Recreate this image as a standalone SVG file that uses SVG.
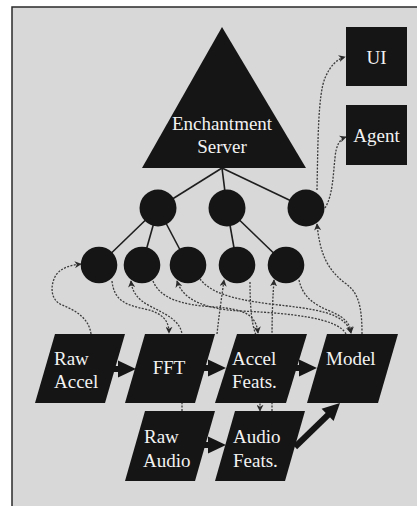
<svg xmlns="http://www.w3.org/2000/svg" width="417" height="506" viewBox="0 0 417 506">
<style>
.shape{fill:#151515}
.lbl{fill:#f2f2f2;font-family:"Liberation Serif","Times New Roman",serif;font-size:19px}
.mid{text-anchor:middle}
.tree{stroke:#1e1e1e;stroke-width:1.6;fill:none}
.dot{stroke:#3c3c3c;stroke-width:1.3;stroke-dasharray:2 1.4;fill:none;marker-end:url(#sm)}
.thick{stroke:#151515;stroke-width:6;fill:none}
.head{fill:#151515}
</style>
<defs>
<marker id="sm" viewBox="0 0 10 10" refX="9" refY="5" markerWidth="7" markerHeight="7" markerUnits="userSpaceOnUse" orient="auto">
<path d="M0,0 L10,5 L0,10 L3,5 z" fill="#2a2a2a"/>
</marker>
</defs>
<rect x="0" y="0" width="417" height="506" fill="#ffffff"/>
<rect x="12" y="7" width="410" height="505" fill="#d8d8d8" stroke="#2a2a2a" stroke-width="1.5"/>

<g id="connectors">
<line class="tree" x1="222" y1="168" x2="158" y2="208"/>
<line class="tree" x1="222" y1="168" x2="227" y2="208"/>
<line class="tree" x1="222" y1="168" x2="306" y2="208"/>
<line class="tree" x1="158" y1="208" x2="99" y2="265"/>
<line class="tree" x1="158" y1="208" x2="142" y2="265"/>
<line class="tree" x1="158" y1="208" x2="188" y2="265"/>
<line class="tree" x1="227" y1="208" x2="237" y2="265"/>
<line class="tree" x1="227" y1="208" x2="286" y2="265"/>

<path class="dot" d="M91,334 C89,318 75,310 62,305 C50,300 50,285 56,275 C62,267 72,265 81,264"/>
<path class="dot" d="M112,281 C114,300 125,305 145,309 C162,313 169,320 169,333"/>
<path class="dot" d="M182,411 L182,334 C180,320 165,314 150,306 C138,300 132,292 131,281"/>
<path class="dot" d="M153,281 C160,298 180,305 215,307 C245,309 256,315 258,333"/>
<path class="dot" d="M217,334 C219,315 222,295 224,280"/>
<path class="dot" d="M250,282 C250,310 252,325 256,335 C259,345 260,380 260,411"/>
<path class="dot" d="M272,411 L272,340 C272,310 273,295 274,280"/>
<path class="dot" d="M299,280 C303,298 315,305 332,312 C345,318 350,323 351,333"/>
<path class="dot" d="M200,279 C210,292 230,299 270,304 C315,309 345,312 351,333"/>
<path class="dot" d="M346,334 C338,318 290,313 240,311 C205,309 183,300 177,281"/>
<path class="dot" d="M362,334 C362,305 358,292 345,283 C328,270 320,255 317,224"/>
<path class="dot" d="M317,190 C318,140 318,95 325,78 C330,66 337,59 345,57"/>
<path class="dot" d="M325,208 C333,195 333,175 335,158 C336,145 340,139 346,137"/>

<line class="thick" x1="113" y1="369" x2="120" y2="369"/>
<polygon class="head" points="118,360.5 136,369 118,377.5"/>
<line class="thick" x1="204" y1="368" x2="210" y2="368"/>
<polygon class="head" points="208,359.5 226,368 208,376.5"/>
<line class="thick" x1="295" y1="368" x2="301" y2="368"/>
<polygon class="head" points="299,359.5 317,368 299,376.5"/>
<line class="thick" x1="204" y1="445" x2="210" y2="445"/>
<polygon class="head" points="208,436.5 226,445 208,453.5"/>
<line class="thick" x1="295" y1="447" x2="329" y2="414"/>
<polygon class="head" points="340,403 333.6,421 321.6,408.8"/>
</g>

<g id="server">
<polygon class="shape" points="222,27 306,168 142,168"/>
<text class="lbl mid" x="222" y="130" font-size="19.5">Enchantment</text>
<text class="lbl mid" x="222" y="153" font-size="19.5">Server</text>
</g>
<g id="ui">
<rect class="shape" x="346" y="27" width="61" height="59"/>
<text class="lbl mid" x="376.5" y="64">UI</text>
</g>
<g id="agent">
<rect class="shape" x="346" y="105" width="61" height="60"/>
<text class="lbl mid" x="376.5" y="142">Agent</text>
</g>

<g id="n1a"><circle class="shape" cx="158" cy="208" r="18.5"/></g>
<g id="n1b"><circle class="shape" cx="227" cy="208" r="18.5"/></g>
<g id="n1c"><circle class="shape" cx="306" cy="208" r="18.5"/></g>
<g id="n2a"><circle class="shape" cx="99" cy="265" r="18.3"/></g>
<g id="n2b"><circle class="shape" cx="142" cy="265" r="18.3"/></g>
<g id="n2c"><circle class="shape" cx="188" cy="265" r="18.3"/></g>
<g id="n2d"><circle class="shape" cx="237" cy="265" r="18.3"/></g>
<g id="n2e"><circle class="shape" cx="286" cy="265" r="18.3"/></g>

<g id="raw-accel">
<polygon class="shape" points="55,334 125,334 105,403 35,403"/>
<text class="lbl" x="54" y="365">Raw</text>
<text class="lbl" x="54" y="388">Accel</text>
</g>
<g id="fft">
<polygon class="shape" points="145,334 215,334 195,403 125,403"/>
<text class="lbl mid" x="169" y="374">FFT</text>
</g>
<g id="accel-feats">
<polygon class="shape" points="237,334 307,334 286,403 215,403"/>
<text class="lbl" x="232" y="365">Accel</text>
<text class="lbl" x="232" y="388">Feats.</text>
</g>
<g id="model">
<polygon class="shape" points="327,334 398,334 378,403 307,403"/>
<text class="lbl" x="326" y="365">Model</text>
</g>
<g id="raw-audio">
<polygon class="shape" points="145,411 215,411 195,481 125,481"/>
<text class="lbl" x="144" y="443">Raw</text>
<text class="lbl" x="143" y="467">Audio</text>
</g>
<g id="audio-feats">
<polygon class="shape" points="235,411 305,411 285,481 215,481"/>
<text class="lbl" x="233" y="443">Audio</text>
<text class="lbl" x="233" y="467">Feats.</text>
</g>
</svg>
